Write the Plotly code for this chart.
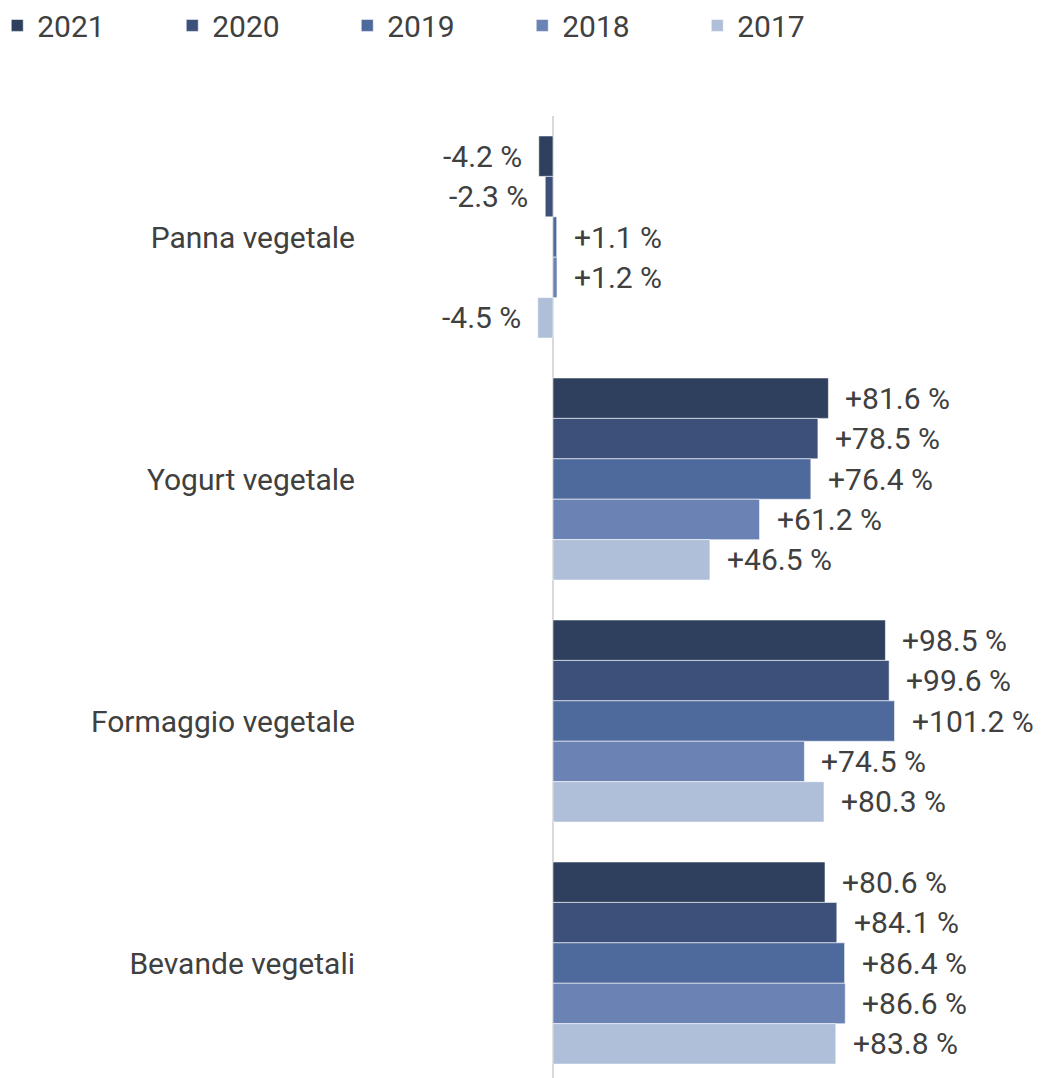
import plotly.graph_objects as go

categories = ["Panna vegetale", "Yogurt vegetale", "Formaggio vegetale", "Bevande vegetali"]
years = ["2021", "2020", "2019", "2018", "2017"]
values_2021 = [-4.2, 81.6, 98.5, 80.6]
values_2020 = [-2.3, 78.5, 99.6, 84.1]
values_2019 = [1.1, 76.4, 101.2, 86.4]
values_2018 = [1.2, 61.2, 74.5, 86.6]
values_2017 = [-4.5, 46.5, 80.3, 83.8]
series = [values_2021, values_2020, values_2019, values_2018, values_2017]
colors = ["#2E405E", "#3D5079", "#4E699B", "#6B83B4", "#AFBED9"]

FONT = "Roboto"
TXT = "#404040"
FS = 30
bargap = 0.165

fig = go.Figure()
for yr, vals, col in zip(years, series, colors):
    fig.add_trace(go.Bar(
        y=categories, x=vals, name=yr, orientation="h",
        marker=dict(color=col, line=dict(color="rgba(255,255,255,0.55)", width=1)),
        hoverinfo="skip",
    ))

n = len(years)
w = (1 - bargap) / n
annotations = []
for i, vals in enumerate(series):
    for j, v in enumerate(vals):
        yy = j + (i - (n - 1) / 2) * w
        annotations.append(dict(
            x=v, y=yy, xref="x", yref="y",
            text=f"{v:+.1f} %",
            showarrow=False,
            xanchor="left" if v >= 0 else "right",
            xshift=15 if v >= 0 else -15,
            font=dict(family=FONT, size=FS, color=TXT),
        ))

fig.update_layout(
    width=1033, height=1070,
    margin=dict(l=357, r=0, t=108, b=0, autoexpand=False),
    barmode="group", bargap=bargap, bargroupgap=0,
    paper_bgcolor="white", plot_bgcolor="white",
    font=dict(family=FONT, size=FS, color=TXT),
    showlegend=True,
    legend=dict(
        orientation="h", xref="paper", yref="paper",
        x=-0.544, y=1.1212, xanchor="left", yanchor="top",
        font=dict(family=FONT, size=FS, color=TXT),
        entrywidth=130, entrywidthmode="pixels",
        traceorder="normal", itemclick=False,
    ),
    annotations=annotations,
)
fig.update_xaxes(
    range=[-55.7, 144.6], showticklabels=False, showgrid=False,
    zeroline=True, zerolinecolor="#D9D9D9", zerolinewidth=2, showline=False,
)
fig.update_yaxes(
    range=[3.475, -0.5], showgrid=False, showline=False, ticks="",
    tickfont=dict(family=FONT, size=FS, color=TXT), ticklabelstandoff=9,
)

fig.write_html("out.html")
